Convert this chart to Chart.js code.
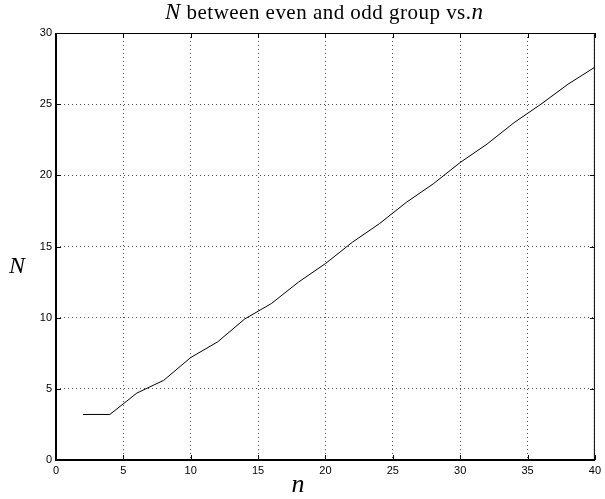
<!DOCTYPE html>
<html>
<head>
<meta charset="utf-8">
<script src="https://cdn.jsdelivr.net/npm/chart.js"></script>
<style>
  html, body { margin: 0; padding: 0; background: #fff; }
  #wrap { width: 605px; height: 499px; }
</style>
</head>
<body>
<div id="wrap"><canvas id="c"></canvas></div>
<script>
// valores
const nValues = [2, 4, 6, 8, 10, 12, 14, 16, 18, 20, 22, 24, 26, 28, 30, 32, 34, 36, 38, 40];
const NValues = [3.2, 3.2, 4.7, 5.6, 7.2, 8.3, 9.9, 11.0, 12.5, 13.8, 15.3, 16.6, 18.1, 19.4, 20.9, 22.2, 23.7, 25.0, 26.4, 27.6];
const xTicks = [0, 5, 10, 15, 20, 25, 30, 35, 40];
const yTicks = [0, 5, 10, 15, 20, 25, 30];

const points = nValues.map((n, i) => ({ x: n, y: NValues[i] }));

// titulo y etiquetas con cursiva mezclada
const labelsPlugin = {
  id: 'labels',
  afterDraw(chart) {
    const { ctx } = chart;
    ctx.save();
    ctx.fillStyle = '#000';
    ctx.textBaseline = 'alphabetic';
    const parts = [
      { t: 'N', f: 'italic 23px "Liberation Serif", serif' },
      { t: ' between even and odd group vs.', f: '21px "Liberation Serif", serif' },
      { t: 'n', f: 'italic 23px "Liberation Serif", serif' }
    ];
    // ancho del titulo en la figura: ~318px
    let w = 0, nChars = 0;
    parts.forEach(p => { ctx.font = p.f; w += ctx.measureText(p.t).width; nChars += p.t.length; });
    const extra = Math.max(0, (318 - w) / (nChars - 1));
    let x = 165;
    parts.forEach(p => {
      ctx.font = p.f;
      for (const ch of p.t) {
        ctx.fillText(ch, x, 19);
        x += ctx.measureText(ch).width + extra;
      }
    });
    ctx.font = 'italic 26px "Liberation Serif", serif';
    ctx.textAlign = 'center';
    ctx.fillText('n', 298, 492);
    ctx.font = 'italic 24px "Liberation Serif", serif';
    ctx.fillText('N', 17, 273);
    ctx.restore();
  }
};

// marco y marcas de graduacion hacia dentro
const boxPlugin = {
  id: 'box',
  afterDraw(chart) {
    const { ctx, chartArea: a, scales } = chart;
    ctx.save();
    ctx.strokeStyle = '#000';
    ctx.lineWidth = 1;
    ctx.strokeRect(a.left + 0.5, a.top + 0.5, a.right - a.left - 1, a.bottom - a.top - 1);
    ctx.beginPath();
    xTicks.forEach(v => {
      const px = Math.round(scales.x.getPixelForValue(v)) + 0.5;
      ctx.moveTo(px, a.bottom); ctx.lineTo(px, a.bottom - 5);
      ctx.moveTo(px, a.top); ctx.lineTo(px, a.top + 5);
    });
    yTicks.forEach(v => {
      const py = Math.round(scales.y.getPixelForValue(v)) + 0.5;
      ctx.moveTo(a.left, py); ctx.lineTo(a.left + 5, py);
      ctx.moveTo(a.right, py); ctx.lineTo(a.right - 5, py);
    });
    ctx.stroke();
    ctx.lineWidth = 2;
    ctx.beginPath();
    ctx.moveTo(a.left, a.top); ctx.lineTo(a.left, a.bottom); ctx.lineTo(a.right, a.bottom);
    ctx.stroke();
    ctx.restore();
  }
};

const tickFont = { family: '"Liberation Sans", Arial', size: 11 };

new Chart(document.getElementById('c'), {
  type: 'line',
  data: {
    datasets: [{
      data: points,
      borderColor: '#000',
      borderWidth: 1,
      pointRadius: 0,
      fill: false,
      tension: 0
    }]
  },
  options: {
    responsive: true,
    maintainAspectRatio: false,
    animation: false,
    layout: { padding: { top: 33, right: 7, bottom: 0, left: 0 } },
    plugins: { legend: { display: false }, tooltip: { enabled: false } },
    scales: {
      x: {
        type: 'linear',
        min: 0, max: 40,
        afterBuildTicks: s => { s.ticks = xTicks.map(v => ({ value: v })); },
        afterFit: s => { s.height = 39; },
        border: { display: false, dash: [1, 3] },
        grid: { color: '#555', drawTicks: false, lineWidth: 1 },
        ticks: { color: '#000', font: tickFont, padding: 4, maxRotation: 0 }
      },
      y: {
        min: 0, max: 30,
        afterBuildTicks: s => { s.ticks = yTicks.map(v => ({ value: v })); },
        afterFit: s => { s.width = 56; },
        border: { display: false, dash: [1, 3] },
        grid: { color: '#555', drawTicks: false, lineWidth: 1 },
        ticks: { color: '#000', font: tickFont, padding: 4 }
      }
    }
  },
  plugins: [labelsPlugin, boxPlugin]
});
</script>
</body>
</html>
